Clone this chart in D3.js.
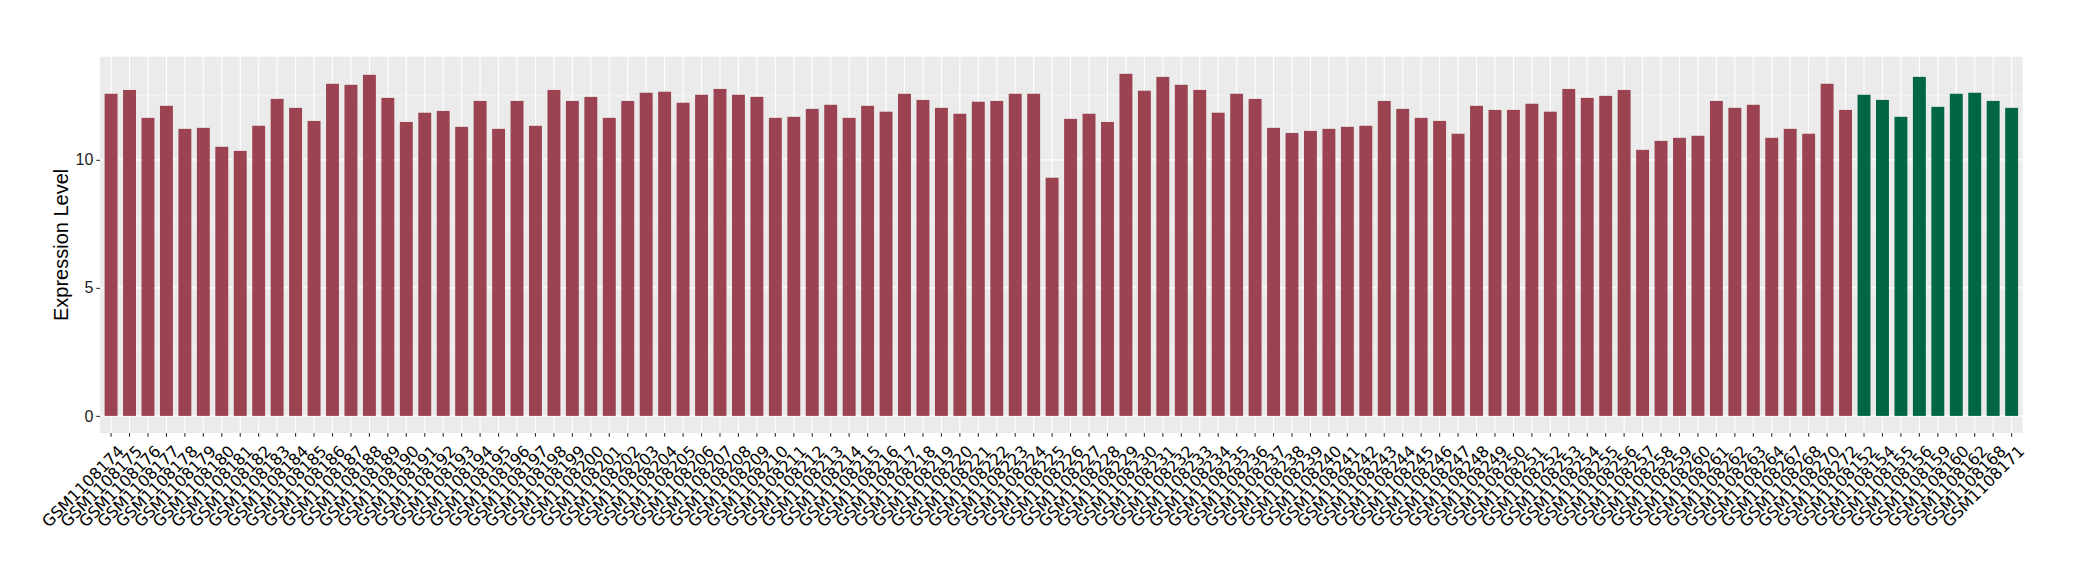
<!DOCTYPE html>
<html>
<head>
<meta charset="utf-8">
<script src="https://cdn.jsdelivr.net/npm/d3@7"></script>
<style>
  body { margin: 0; background: #ffffff; }
  svg { display: block; }
</style>
</head>
<body>
<script>
// sample ids, in plotting order
var samplesA = ["GSM1108174","GSM1108175","GSM1108176","GSM1108177","GSM1108178","GSM1108179","GSM1108180","GSM1108181",
    "GSM1108182","GSM1108183","GSM1108184","GSM1108185","GSM1108186","GSM1108187","GSM1108188","GSM1108189",
    "GSM1108190","GSM1108191","GSM1108192","GSM1108193","GSM1108194","GSM1108195","GSM1108196","GSM1108197",
    "GSM1108198","GSM1108199","GSM1108200","GSM1108201","GSM1108202","GSM1108203","GSM1108204","GSM1108205",
    "GSM1108206","GSM1108207","GSM1108208","GSM1108209","GSM1108210","GSM1108211","GSM1108212","GSM1108213",
    "GSM1108214","GSM1108215","GSM1108216","GSM1108217","GSM1108218","GSM1108219","GSM1108220","GSM1108221",
    "GSM1108222","GSM1108223","GSM1108224","GSM1108225","GSM1108226","GSM1108227","GSM1108228","GSM1108229",
    "GSM1108230","GSM1108231","GSM1108232","GSM1108233","GSM1108234","GSM1108235","GSM1108236","GSM1108237",
    "GSM1108238","GSM1108239","GSM1108240","GSM1108241","GSM1108242","GSM1108243","GSM1108244","GSM1108245",
    "GSM1108246","GSM1108247","GSM1108248","GSM1108249","GSM1108250","GSM1108251","GSM1108252","GSM1108253",
    "GSM1108254","GSM1108255","GSM1108256","GSM1108257","GSM1108258","GSM1108259","GSM1108260","GSM1108261",
    "GSM1108262","GSM1108263","GSM1108264","GSM1108267","GSM1108268","GSM1108270","GSM1108272"];

var samplesB = ["GSM1108152","GSM1108154","GSM1108155","GSM1108156","GSM1108159","GSM1108160","GSM1108162",
    "GSM1108168","GSM1108171"];

// expression level per sample, same order (samplesA then samplesB)
var values = [12.58, 12.73, 11.64, 12.11, 11.21, 11.25, 10.51, 10.35, 11.33, 12.38, 12.03, 11.52, 12.97, 12.93,
    13.32, 12.42, 11.48, 11.84, 11.91, 11.29, 12.30, 11.21, 12.30, 11.33, 12.73, 12.30, 12.46, 11.64, 12.30,
    12.62, 12.66, 12.23, 12.54, 12.77, 12.54, 12.46, 11.64, 11.68, 11.99, 12.15, 11.64, 12.11, 11.88, 12.58,
    12.34, 12.03, 11.80, 12.27, 12.30, 12.58, 12.58, 9.30, 11.60, 11.80, 11.48, 13.36, 12.70, 13.24, 12.93,
    12.73, 11.84, 12.58, 12.38, 11.25, 11.05, 11.13, 11.21, 11.29, 11.33, 12.30, 11.99, 11.64, 11.52, 11.02,
    12.11, 11.95, 11.95, 12.19, 11.88, 12.77, 12.42, 12.50, 12.73, 10.39, 10.74, 10.86, 10.94, 12.30, 12.03,
    12.15, 10.86, 11.21, 11.02, 12.97, 11.95,
    12.54, 12.34, 11.68, 13.24, 12.07, 12.58, 12.62, 12.30, 12.03];

var groups = ["A", "B"],
    groupColors = ["#9b4351", "#006644"],
    yTicks = [0, 5, 10],
    yMinor = [2.5, 7.5, 12.5],
    yLabel = "Expression Level";

window.onload = function() {
    var samples = samplesA.concat(samplesB);
    var data = [];
    for (let i = 0; i < samples.length; i++) {
        data.push({"sample": samples[i],
                   "value": values[i],
                   "group": i < samplesA.length ? "A" : "B"});
    }
    makeGraph(data);
};

function makeGraph(data)
{
    var totalWidth = 2080,
        totalHeight = 580,
        panel = {left: 100, right: 2022.7, top: 56.7, bottom: 433};

    var svg = d3.select("body").append("svg")
        .attr("width", totalWidth)
        .attr("height", totalHeight);

    // ggplot-like scales: discrete x with 0.6 step padding, y expanded by 5%
    var scaleX = d3.scaleBand()
        .domain(data.map(function(d) { return d.sample; }))
        .range([panel.left, panel.right])
        .paddingInner(0.3)
        .paddingOuter(0.25);

    var maxY = d3.max(data, function(d) { return d.value; });
    var scaleY = d3.scaleLinear()
        .domain([-0.05 * maxY, maxY * 1.05])
        .range([panel.bottom, panel.top]);

    var color = d3.scaleOrdinal().domain(groups).range(groupColors);

    // panel background
    svg.append("rect")
        .attr("x", panel.left)
        .attr("y", panel.top)
        .attr("width", panel.right - panel.left)
        .attr("height", panel.bottom - panel.top)
        .attr("fill", "#ebebeb");

    // minor grid
    svg.append("g").selectAll("line")
        .data(yMinor)
        .enter().append("line")
            .attr("x1", panel.left).attr("x2", panel.right)
            .attr("y1", function(d) { return scaleY(d); })
            .attr("y2", function(d) { return scaleY(d); })
            .attr("stroke", "#ffffff")
            .attr("stroke-width", 0.55);

    // major grid
    svg.append("g").selectAll("line")
        .data(yTicks)
        .enter().append("line")
            .attr("x1", panel.left).attr("x2", panel.right)
            .attr("y1", function(d) { return scaleY(d); })
            .attr("y2", function(d) { return scaleY(d); })
            .attr("stroke", "#ffffff")
            .attr("stroke-width", 1.1);

    svg.append("g").selectAll("line")
        .data(scaleX.domain())
        .enter().append("line")
            .attr("x1", function(d) { return scaleX(d) + scaleX.bandwidth() / 2; })
            .attr("x2", function(d) { return scaleX(d) + scaleX.bandwidth() / 2; })
            .attr("y1", panel.top).attr("y2", panel.bottom)
            .attr("stroke", "#ffffff")
            .attr("stroke-width", 1.1);

    // bars
    svg.append("g").selectAll("rect")
        .data(data)
        .enter().append("rect")
            .attr("x", function(d) { return scaleX(d.sample); })
            .attr("y", function(d) { return scaleY(d.value); })
            .attr("width", scaleX.bandwidth())
            .attr("height", function(d) { return scaleY(0) - scaleY(d.value); })
            .attr("fill", function(d) { return color(d.group); });

    // y axis
    var yAxis = d3.axisLeft(scaleY)
        .tickValues(yTicks)
        .tickSize(3.7)
        .tickPadding(3)
        .tickFormat(d3.format("d"));

    var gy = svg.append("g")
        .attr("transform", "translate(" + panel.left + ",0)")
        .call(yAxis);
    gy.select(".domain").remove();
    gy.selectAll(".tick line").attr("stroke", "#333333").attr("stroke-width", 1.1);
    gy.selectAll(".tick text")
        .attr("fill", "#222222")
        .style("font-family", "Liberation Sans, Arial, sans-serif")
        .style("font-size", "16px");

    // x axis
    var xAxis = d3.axisBottom(scaleX)
        .tickSize(3.7)
        .tickSizeOuter(0);

    var gx = svg.append("g")
        .attr("transform", "translate(0," + panel.bottom + ")")
        .call(xAxis);
    gx.select(".domain").remove();
    gx.selectAll(".tick line").attr("stroke", "#333333").attr("stroke-width", 1.1);
    gx.selectAll(".tick text")
        .attr("fill", "#000000")
        .attr("y", 0)
        .attr("dy", "0.73em")
        .attr("transform", "translate(5.5,11) rotate(-45)")
        .style("text-anchor", "end")
        .style("font-family", "'DejaVu Sans', sans-serif")
        .style("font-size", "16px");

    // y axis title
    svg.append("text")
        .attr("transform", "translate(68," + ((panel.top + panel.bottom) / 2) + ") rotate(-90)")
        .style("text-anchor", "middle")
        .style("font-family", "Liberation Sans, Arial, sans-serif")
        .style("font-size", "20px")
        .attr("fill", "#000000")
        .text(yLabel);
}
</script>
</body>
</html>
